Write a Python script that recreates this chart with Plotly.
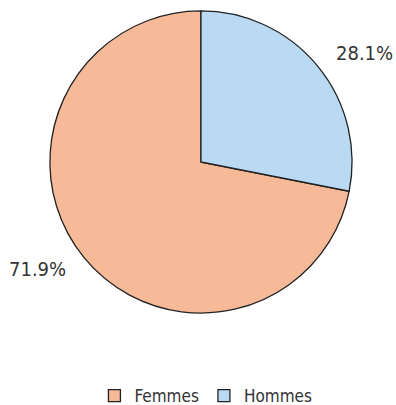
import math
import plotly.graph_objects as go

# Share of each group
labels = ["Femmes", "Hommes"]
values = [71.9, 28.1]
colors = ["#F6BA98", "#BADAF3"]

FONT = "DejaVu Sans Condensed, Roboto, sans-serif"
W, H = 396, 405

# Pie placement (paper fractions)
dom_x = [0.015, 1.0]
dom_y = [0.227, 0.973]
start = values[1] / sum(values) * 360  # Femmes starts where Hommes ends

fig = go.Figure(
    go.Pie(
        labels=labels,
        values=values,
        marker=dict(colors=colors, line=dict(color="#222222", width=1.3)),
        sort=False,
        direction="clockwise",
        rotation=start,
        textinfo="none",
        hoverinfo="label+percent",
        domain=dict(x=dom_x, y=dom_y),
    )
)

# Percentage labels placed just outside each slice
cx = (dom_x[0] + dom_x[1]) / 2 * W
cy = (1 - (dom_y[0] + dom_y[1]) / 2) * H
r = min((dom_x[1] - dom_x[0]) * W, (dom_y[1] - dom_y[0]) * H) / 2
total = sum(values)
angle = start
for lab, val in zip(labels, values):
    sweep = val / total * 360
    mid = math.radians(angle + sweep / 2 + 6)
    px = cx + 1.3 * r * math.sin(mid)
    py = cy - 1.3 * r * math.cos(mid) - 1
    fig.add_annotation(
        x=px / W, y=1 - py / H, xref="paper", yref="paper",
        text=f"{val:.1f}%", showarrow=False,
        xanchor="center", yanchor="middle",
        font=dict(family=FONT, size=20, color="#333333"),
    )
    angle += sweep

fig.update_layout(
    width=W,
    height=H,
    margin=dict(l=0, r=0, t=0, b=0, autoexpand=False),
    paper_bgcolor="white",
    showlegend=True,
    legend=dict(
        orientation="h",
        x=0.52,
        xanchor="center",
        y=1 - 396 / H,
        yanchor="middle",
        font=dict(family=FONT, size=17, color="#333333"),
        traceorder="normal",
    ),
)

fig.write_html("out.html")
